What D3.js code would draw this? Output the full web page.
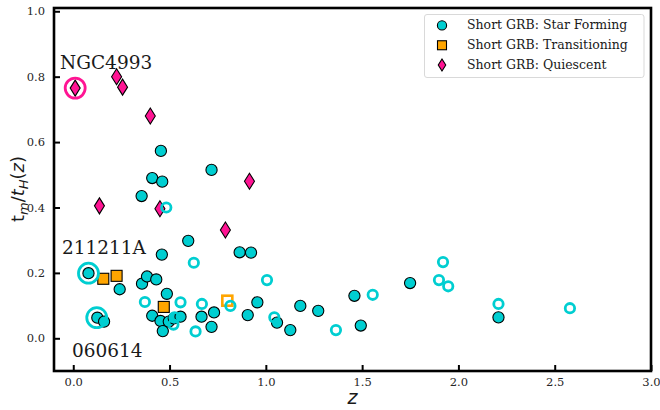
<!DOCTYPE html>
<html>
<head>
<meta charset="utf-8">
<script src="https://cdn.jsdelivr.net/npm/d3@7"></script>
<style>
  html, body { margin: 0; padding: 0; background: #fff; }
  svg { display: block; }
</style>
</head>
<body>
<svg id="chart" width="660" height="410"></svg>
<script>
// Short GRB hosts: z vs t_m / t_H(z).
const starForming = [
  [0.455, 0.573], [0.41, 0.49], [0.462, 0.479], [0.718, 0.515], [0.355, 0.435],
  [0.079, 0.199], [0.125, 0.063], [0.16, 0.051], [0.241, 0.150], [0.46, 0.256],
  [0.597, 0.298], [0.357, 0.167], [0.383, 0.189], [0.431, 0.180], [0.486, 0.136],
  [0.41, 0.069], [0.453, 0.053], [0.465, 0.022], [0.496, 0.051], [0.522, 0.061],
  [0.557, 0.066], [0.666, 0.066], [0.731, 0.079], [0.718, 0.035], [0.864, 0.263],
  [0.923, 0.262], [0.906, 0.071], [0.956, 0.110], [1.058, 0.048], [1.127, 0.025],
  [1.179, 0.099], [1.272, 0.084], [1.46, 0.130], [1.493, 0.039], [1.749, 0.169],
  [2.208, 0.064]
];
// open markers: the same classes with no fill
const starFormingOpen = [
  [0.483, 0.400], [0.626, 0.231], [0.372, 0.111], [0.557, 0.110], [0.668, 0.105],
  [0.816, 0.099], [0.526, 0.064], [0.52, 0.042], [0.635, 0.021], [1.006, 0.178],
  [1.044, 0.064], [1.364, 0.025], [1.555, 0.133], [1.92, 0.233], [1.899, 0.178],
  [1.947, 0.159], [2.208, 0.105], [2.579, 0.092]
];
const transitioning = [[0.156, 0.182], [0.225, 0.191], [0.47, 0.096]];
const transitioningOpen = [[0.80, 0.115]];
const quiescent = [
  [0.01, 0.765], [0.225, 0.80], [0.256, 0.768], [0.40, 0.68], [0.136, 0.405],
  [0.45, 0.396], [0.79, 0.331], [0.915, 0.48]
];
const highlights = [
  { name: 'NGC4993', z: 0.01, y: 0.765, color: '#ff1493', lx: 60, ly: 69 },
  { name: '211211A', z: 0.079, y: 0.199, color: '#00ced1', lx: 62, ly: 254 },
  { name: '060614', z: 0.122, y: 0.063, color: '#00ced1', lx: 72, ly: 357 }
];
const legendItems = [
  { label: 'Short GRB: Star Forming', shape: 'circle', fill: '#00ced1' },
  { label: 'Short GRB: Transitioning', shape: 'square', fill: '#ffa500' },
  { label: 'Short GRB: Quiescent', shape: 'diamond', fill: '#ff1493' }
];
const xTicks = [0.0, 0.5, 1.0, 1.5, 2.0, 2.5, 3.0];
const yTicks = [0.0, 0.2, 0.4, 0.6, 0.8, 1.0];

const svg = d3.select('#chart');
const serif = 'DejaVu Serif, serif';
const plot = { left: 54, right: 651, top: 8, bottom: 371 };

const x = d3.scaleLinear().domain([-0.1, 3.0]).range([plot.left, plot.right]);
const y = d3.scaleLinear().domain([-0.1, 1.01]).range([plot.bottom, plot.top]);

const CYAN = '#00ced1', ORANGE = '#ffa500', PINK = '#ff1493';

// thin diamond like matplotlib 'd'
const diamondPath = (w, h) => `M0,${-h / 2}L${w / 2},0L0,${h / 2}L${-w / 2},0Z`;

const marks = svg.append('g');

marks.selectAll('circle.sf')
  .data(starForming)
  .join('circle')
  .attr('class', 'sf')
  .attr('cx', (d) => x(d[0]))
  .attr('cy', (d) => y(d[1]))
  .attr('r', 5.6)
  .attr('fill', CYAN)
  .attr('stroke', '#000')
  .attr('stroke-width', 1.1);

marks.selectAll('rect.tr')
  .data(transitioning)
  .join('rect')
  .attr('class', 'tr')
  .attr('x', (d) => x(d[0]) - 5.5)
  .attr('y', (d) => y(d[1]) - 5.5)
  .attr('width', 11)
  .attr('height', 11)
  .attr('fill', ORANGE)
  .attr('stroke', '#000')
  .attr('stroke-width', 1.1);

marks.selectAll('path.qu')
  .data(quiescent)
  .join('path')
  .attr('class', 'qu')
  .attr('transform', (d) => `translate(${x(d[0])},${y(d[1])})`)
  .attr('d', diamondPath(10, 16))
  .attr('fill', PINK)
  .attr('stroke', '#000')
  .attr('stroke-width', 1.1);

marks.selectAll('rect.tro')
  .data(transitioningOpen)
  .join('rect')
  .attr('class', 'tro')
  .attr('x', (d) => x(d[0]) - 5)
  .attr('y', (d) => y(d[1]) - 5)
  .attr('width', 10)
  .attr('height', 10)
  .attr('fill', 'none')
  .attr('stroke', ORANGE)
  .attr('stroke-width', 2.6);

marks.selectAll('circle.sfo')
  .data(starFormingOpen)
  .join('circle')
  .attr('class', 'sfo')
  .attr('cx', (d) => x(d[0]))
  .attr('cy', (d) => y(d[1]))
  .attr('r', 4.7)
  .attr('fill', 'none')
  .attr('stroke', CYAN)
  .attr('stroke-width', 2.8);

// rings + names for the notable events
marks.selectAll('circle.hl')
  .data(highlights)
  .join('circle')
  .attr('class', 'hl')
  .attr('cx', (d) => x(d.z))
  .attr('cy', (d) => y(d.y))
  .attr('r', 10)
  .attr('fill', 'none')
  .attr('stroke', (d) => d.color)
  .attr('stroke-width', 2.8);

svg.append('g').selectAll('text')
  .data(highlights)
  .join('text')
  .attr('x', (d) => d.lx)
  .attr('y', (d) => d.ly)
  .attr('font-family', serif)
  .attr('font-size', 18.5)
  .attr('fill', '#1a1a1a')
  .text((d) => d.name);

// axes: inward ticks like matplotlib direction='in'
const xAxis = svg.append('g')
  .attr('transform', `translate(0,${plot.bottom})`)
  .call(d3.axisBottom(x).tickValues(xTicks).tickFormat(d3.format('.1f')).tickSizeInner(-6).tickSizeOuter(0).tickPadding(7));
const yAxis = svg.append('g')
  .attr('transform', `translate(${plot.left},0)`)
  .call(d3.axisLeft(y).tickValues(yTicks).tickFormat(d3.format('.1f')).tickSizeInner(-6).tickSizeOuter(0).tickPadding(9));

[xAxis, yAxis].forEach((g) => {
  g.select('.domain').remove();
  g.selectAll('.tick line').attr('stroke', '#000').attr('stroke-width', 2);
  g.selectAll('.tick text')
    .attr('font-family', serif)
    .attr('font-size', 11.5)
    .attr('fill', '#262626');
});

svg.append('rect')
  .attr('x', plot.left)
  .attr('y', plot.top)
  .attr('width', plot.right - plot.left)
  .attr('height', plot.bottom - plot.top)
  .attr('fill', 'none')
  .attr('stroke', '#000')
  .attr('stroke-width', 2.6);

// axis labels
svg.append('text')
  .attr('x', (plot.left + plot.right) / 2)
  .attr('y', 404)
  .attr('text-anchor', 'middle')
  .attr('font-family', 'DejaVu Sans, sans-serif')
  .attr('font-style', 'italic')
  .attr('font-size', 19)
  .attr('fill', '#1a1a1a')
  .text('z');

const yl = svg.append('text')
  .attr('transform', 'translate(24,189) rotate(-90)')
  .attr('text-anchor', 'middle')
  .attr('font-family', 'DejaVu Sans, sans-serif')
  .attr('font-size', 18)
  .attr('fill', '#1a1a1a');
yl.append('tspan').text('t');
yl.append('tspan').attr('font-style', 'italic').attr('font-size', 13).attr('dy', 4).text('m');
yl.append('tspan').attr('dy', -4).text('/');
yl.append('tspan').attr('font-style', 'italic').text('t');
yl.append('tspan').attr('font-style', 'italic').attr('font-size', 13).attr('dy', 4).text('H');
yl.append('tspan').attr('dy', -4).text('(');
yl.append('tspan').attr('font-style', 'italic').text('z');
yl.append('tspan').text(')');

// legend
const legend = svg.append('g');
legend.append('rect')
  .attr('x', 424.5)
  .attr('y', 14.5)
  .attr('width', 219.5)
  .attr('height', 63)
  .attr('rx', 2.5)
  .attr('fill', '#fff')
  .attr('fill-opacity', 0.8)
  .attr('stroke', '#d9d9d9')
  .attr('stroke-width', 1);

const legendRow = d3.scaleBand().domain(legendItems.map((d) => d.label)).range([15.5, 75]);
const rows = legend.selectAll('g.row')
  .data(legendItems)
  .join('g')
  .attr('class', 'row')
  .attr('transform', (d) => `translate(442,${legendRow(d.label) + legendRow.bandwidth() / 2})`);

rows.each(function (d) {
  const g = d3.select(this);
  if (d.shape === 'circle') {
    g.append('circle').attr('r', 4.6);
  } else if (d.shape === 'square') {
    g.append('rect').attr('x', -4.5).attr('y', -4.5).attr('width', 9).attr('height', 9);
  } else {
    g.append('path').attr('d', diamondPath(7.5, 12));
  }
  g.selectAll('circle, rect, path')
    .attr('fill', d.fill)
    .attr('stroke', '#000')
    .attr('stroke-width', 1.1);
});

rows.append('text')
  .attr('x', 25)
  .attr('dy', '0.32em')
  .attr('font-family', serif)
  .attr('font-size', 12.5)
  .attr('fill', '#1a1a1a')
  .text((d) => d.label);
</script>
</body>
</html>
